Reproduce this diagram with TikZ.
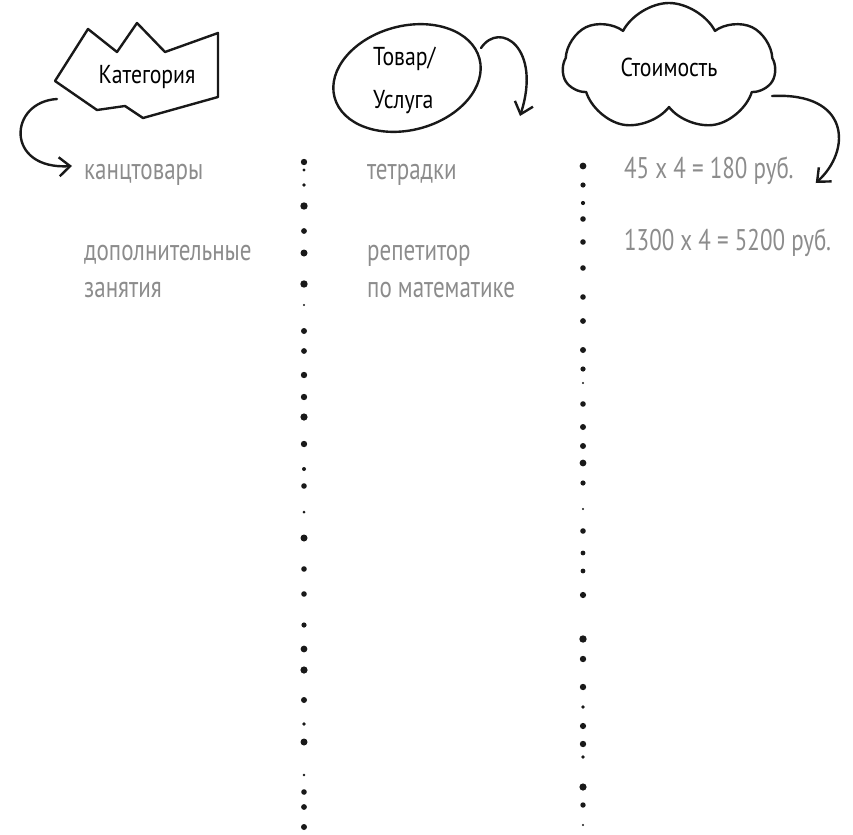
\documentclass[tikz,border=0pt]{standalone}
\usepackage{fontspec}
\setmainfont[FakeStretch=0.84]{PT Sans}
\newfontfamily\entryfont[FakeStretch=0.77]{PT Sans}
\usetikzlibrary{arrows.meta,shapes.symbols,positioning}
\definecolor{ink}{RGB}{25,25,25}
\definecolor{inkgray}{RGB}{140,140,140}
\tikzset{
  head/.style={font=\fontsize{26}{43}\selectfont, text=black, inner sep=0pt},
  entry/.style={font=\entryfont\fontsize{30}{36}\selectfont, text=inkgray, inner sep=0pt, anchor=base west},
  sketch/.style={draw=ink, line width=2.4bp, line join=round, line cap=round},
  hook/.style={sketch, -{Straight Barb[length=11bp,width=19bp]}}
}
\begin{document}
\begin{tikzpicture}[x=1bp,y=-1bp]
  \useasboundingbox (0,0) rectangle (853,835);
  \def\crown{(55,81) -- (88,29) -- (117,52) -- (137,23) -- (165,52) -- (218,33)
    -- (218,97) -- (143,118) -- (125,106) -- (97,110) -- cycle}
  \draw[sketch] \crown;
  \node[head, anchor=base] (cat) at (147,83) {Категория};
  \node[head, anchor=north west, align=left] (tov) at (373,47) {Товар/\\Услуга};
  \draw[sketch, rotate around={15:(407,78)}] (407,78) ellipse [x radius=75, y radius=52];
  \node[head, sketch, cloud, cloud puffs=7, cloud puff arc=125, aspect=1.6, minimum width=212bp,
    minimum height=128bp] (cost) at (669,67) {Стоимость};

  \node[entry] (kanc) at (84,179) {канцтовары};
  \node[entry] (dop) at (84,260) {дополнительные};
  \node[entry] (zan) at (84,297) {занятия};
  \node[entry] (tetr) at (367,179) {тетрадки};
  \node[entry] (rep) at (367,260) {репетитор};
  \node[entry] (math) at (367,297) {по математике};
  \node[entry] (price1) at (624,178) {45 x 4 = 180 руб.};
  \node[entry] (price2) at (624,250) {1300 x 4 = 5200 руб.};

  \coordinate (cat-foot) at (57,99);
  \coordinate (tov-r) at (481,48);
  \coordinate (tov-tip) at (520,116);
  \coordinate (cost-r) at (772,96);
  \draw[hook] (cat-foot) .. controls (8,102) and (5,170) .. ([shift={(-12,-13)}]kanc.base west);
  \draw[hook] (tov-r) .. controls (500,20) and (542,48) .. (tov-tip);
  \draw[hook] (cost-r) .. controls (850,92) and (852,150) .. ([shift={(22,5)}]price1.base east);

  \foreach \y/\r in {162/3.2,170/1.7,185/1.9,206/3.7,231/2.9,253/3.5,284/3.7,305/1.2,
      331/3.0,351/2.9,375/3.2,397/3.2,417/3.6,444/3.2,469/2.0,486/2.8,512/1.5,538/3.5,
      569/2.8,594/2.8,625/2.6,649/3.4,670/3.6,700/3.0,724/1.8,742/3.5,775/1.3,792/2.8,
      807/2.9,827/3.0}
    \fill[ink] (304,\y) circle (\r);
  \foreach \y/\r in {166/3.4,185/2.6,203/2.1,219/2.8,242/2.8,268/2.8,297/2.8,321/2.9,
      350/3.0,369/2.6,383/1.1,404/2.8,427/3.0,446/3.0,463/3.4,483/2.6,509/1.2,531/2.8,
      553/2.4,571/2.4,595/3.1,639/3.7,659/3.2,687/3.2,707/1.9,726/3.1,744/3.2,757/1.9,
      787/3.6,805/2.7,825/1.2}
    \fill[ink] (583,\y) circle (\r);
\end{tikzpicture}
\end{document}
